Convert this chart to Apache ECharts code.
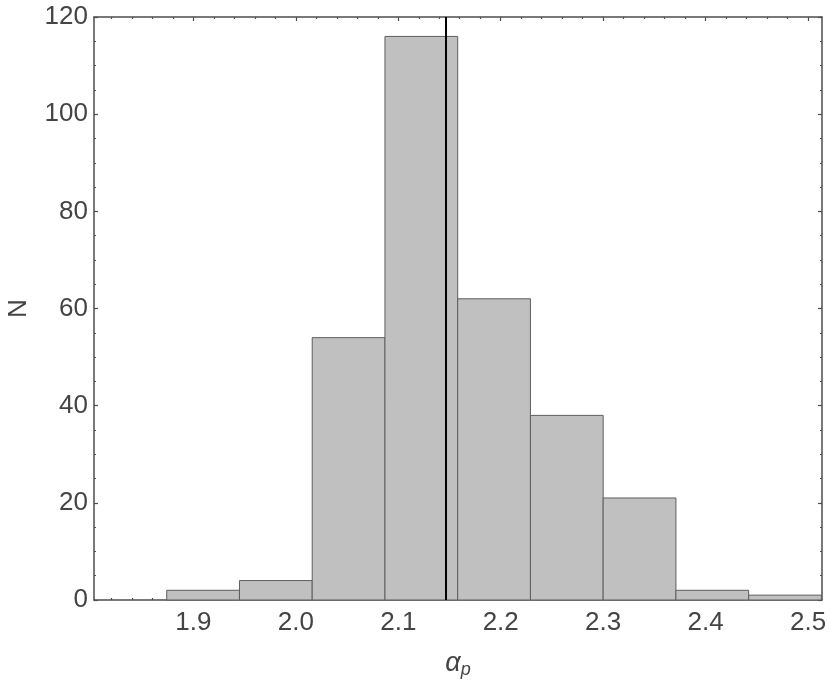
<!DOCTYPE html>
<html>
<head>
<meta charset="utf-8">
<script src="https://cdn.jsdelivr.net/npm/echarts@6/dist/echarts.min.js"></script>
<style>
  html, body { margin: 0; padding: 0; background: #fff; }
  #chart { width: 830px; height: 685px; }
</style>
</head>
<body>
<div id="chart"></div>
<script>
"use strict";
// histogram bins (edges on alpha_p) and counts
var binEdges = [1.874, 1.945, 2.016, 2.087, 2.158, 2.229, 2.300, 2.371, 2.442, 2.513];
var binCounts = [2, 4, 54, 116, 62, 38, 21, 2, 1];
var meanValue = 2.1466;
var xMajorTicks = [1.9, 2.0, 2.1, 2.2, 2.3, 2.4, 2.5];
var xMinorTicks = [1.82, 1.84, 1.86, 1.88, 1.92, 1.94, 1.96, 1.98, 2.02, 2.04, 2.06, 2.08,
    2.12, 2.14, 2.16, 2.18, 2.22, 2.24, 2.26, 2.28, 2.32, 2.34, 2.36, 2.38,
    2.42, 2.44, 2.46, 2.48];
var xMin = 1.803, xMax = 2.5136;

var textColor = '#444';
var frameColor = '#4d4d4d';
var fontFamily = '"Liberation Sans", Arial, sans-serif';

var barData = [];
for (var i = 0; i < binCounts.length; i++) {
    barData.push([binEdges[i], binEdges[i + 1], binCounts[i]]);
}

function xAxisDef(pos, ticks, len, showLabel, showLine) {
    return {
        type: 'value', position: pos, min: xMin, max: xMax,
        axisLine: {show: showLine, lineStyle: {color: frameColor, width: 1.5}},
        axisTick: {show: true, inside: true, length: len, customValues: ticks,
            lineStyle: {color: frameColor, width: 1.2}},
        axisLabel: {show: showLabel, customValues: ticks, margin: 10,
            color: textColor, fontSize: 26, fontFamily: fontFamily,
            formatter: function (v) { return v.toFixed(1); }},
        splitLine: {show: false}
    };
}

function yAxisDef(pos, showLabel) {
    return {
        type: 'value', position: pos, min: 0, max: 120, interval: 20,
        axisLine: {show: true, lineStyle: {color: frameColor, width: 1.5}},
        axisTick: {show: true, inside: true, length: 4, lineStyle: {color: frameColor, width: 1.2}},
        minorTick: {show: true, splitNumber: 4, length: 2, lineStyle: {color: frameColor, width: 1}},
        axisLabel: {show: showLabel, margin: 6, color: textColor, fontSize: 26, fontFamily: fontFamily},
        splitLine: {show: false}
    };
}

var xBottom = xAxisDef('bottom', xMajorTicks, 4, true, true);
xBottom.name = '{a|α}{s|p}';
xBottom.nameLocation = 'middle';
xBottom.nameGap = 47;
xBottom.nameTextStyle = {
    rich: {
        a: {fontSize: 27, fontStyle: 'italic', color: textColor, fontFamily: fontFamily},
        s: {fontSize: 18, fontStyle: 'italic', color: textColor, fontFamily: fontFamily, padding: [14, 0, 0, 0]}
    }
};

var yLeft = yAxisDef('left', true);
yLeft.name = 'N';
yLeft.nameLocation = 'middle';
yLeft.nameRotate = 90;
yLeft.nameGap = 62;
yLeft.nameTextStyle = {color: textColor, fontSize: 26, fontFamily: fontFamily};

var option = {
    animation: false,
    backgroundColor: '#fff',
    grid: {left: 94, right: 8, top: 17, bottom: 85, containLabel: false, outerBoundsMode: 'none'},
    xAxis: [
        xBottom,
        xAxisDef('bottom', xMinorTicks, 2, false, false),
        xAxisDef('top', xMajorTicks, 4, false, true),
        xAxisDef('top', xMinorTicks, 2, false, false)
    ],
    yAxis: [yLeft, yAxisDef('right', false)],
    series: [
        {
            type: 'custom',
            xAxisIndex: 0, yAxisIndex: 0,
            data: barData,
            renderItem: function (params, api) {
                var p0 = api.coord([api.value(0), 0]);
                var p1 = api.coord([api.value(1), api.value(2)]);
                return {
                    type: 'rect',
                    shape: {x: p0[0], y: p1[1], width: p1[0] - p0[0], height: p0[1] - p1[1]},
                    style: {fill: '#c0c0c0', stroke: '#5e5e5e', lineWidth: 1}
                };
            }
        },
        {
            type: 'line',
            xAxisIndex: 0, yAxisIndex: 0,
            data: [[meanValue, 0], [meanValue, 120]],
            symbol: 'none',
            lineStyle: {color: '#000', width: 2}
        }
    ]
};

var chart = echarts.init(document.getElementById('chart'));
chart.setOption(option);
</script>
</body>
</html>
